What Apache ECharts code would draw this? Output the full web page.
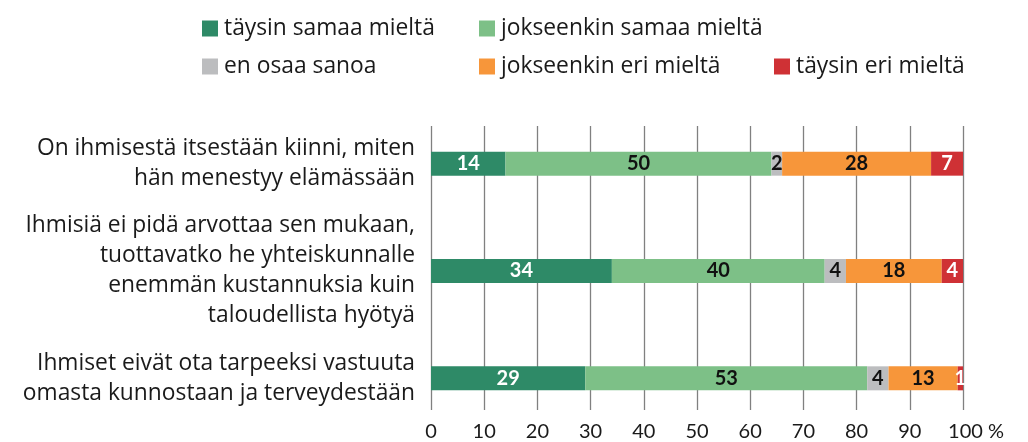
<!DOCTYPE html>
<html>
<head>
    <meta charset="utf-8">
    <script src="https://cdn.jsdelivr.net/npm/echarts@6/dist/echarts.min.js"></script>
</head>
<body style="margin:0">
	<div id="main" style="width:1028px;height:442px;"></div>
	<script type="text/javascript">
		// väittämät
		var categories = [
			'On ihmisestä itsestään kiinni, miten\nhän menestyy elämässään',
			'Ihmisiä ei pidä arvottaa sen mukaan,\ntuottavatko he yhteiskunnalle\nenemmän kustannuksia kuin\ntaloudellista hyötyä',
			'Ihmiset eivät ota tarpeeksi vastuuta\nomasta kunnostaan ja terveydestään'
		]
		var names = ['täysin samaa mieltä', 'jokseenkin samaa mieltä', 'en osaa sanoa', 'jokseenkin eri mieltä', 'täysin eri mieltä']
		var taysinSamaa = [14, 34, 29]
		var jokseenkinSamaa = [50, 40, 53]
		var enOsaa = [2, 4, 4]
		var jokseenkinEri = [28, 18, 13]
		var taysinEri = [7, 4, 1]

		var cols = ['#2e8a67', '#7dc087', '#bcbdbf', '#f7963a', '#cf3135']
		var labelCols = ['#fff', '#111', '#111', '#111', '#fff']
		var values = [taysinSamaa, jokseenkinSamaa, enOsaa, jokseenkinEri, taysinEri]
		var font = 'Lato'
		var textFont = 'Open Sans'

		// legend positions (Excel-like 3 columns)
		var legendPos = [[202, 17], [479, 17], [202, 55], [479, 55], [774, 55]]
		var legends = []
		for (var i = 0; i < names.length; i++) {
			legends.push({
				data: [names[i]],
				left: legendPos[i][0],
				top: legendPos[i][1],
				padding: 0,
				icon: 'rect',
				itemWidth: 16,
				itemHeight: 16,
				selectedMode: false,
				textStyle: {color: '#1a1a1a', fontSize: 22.8, fontFamily: textFont, lineHeight: 22, padding: [0, 0, 0, 1]}
			})
		}

		var series = []
		for (var i = 0; i < names.length; i++) {
			series.push({
				name: names[i],
				type: 'bar',
				stack: 'all',
				xAxisIndex: 0,
				yAxisIndex: 0,
				barWidth: 24,
				data: values[i],
				itemStyle: {color: cols[i]},
				label: {
					show: true,
					position: 'inside',
					color: labelCols[i],
					fontSize: 20,
					fontWeight: 'bold',
					fontFamily: font
				}
			})
		}

		var myChart = echarts.init(document.getElementById('main'))
		var option = {
			animation: false,
			textStyle: {fontFamily: font},
			legend: legends,
			grid: [
				{left: 431, width: 532, top: 110, height: 322},
				{left: 431, width: 532, top: 126, height: 284}
			],
			xAxis: [{
				gridIndex: 0,
				type: 'value',
				min: 0,
				max: 100,
				show: false
			}, {
				gridIndex: 1,
				type: 'value',
				min: 0,
				max: 100,
				interval: 10,
				axisLine: {show: false},
				axisTick: {show: false},
				splitLine: {show: true, lineStyle: {color: '#808080', width: 1.3}},
				axisLabel: {
					color: '#1a1a1a',
					fontSize: 20,
					fontFamily: font,
					margin: 12,
					formatter: function (v) {
						return v === 100 ? '{p|100 %}' : v
					},
					rich: {p: {fontSize: 20, fontFamily: font, color: '#1a1a1a', padding: [0, 0, 0, 26]}}
				}
			}],
			yAxis: [{
				gridIndex: 0,
				type: 'category',
				inverse: true,
				data: categories,
				axisLine: {show: false},
				axisTick: {show: false},
				axisLabel: {
					interval: 0,
					color: '#1a1a1a',
					fontSize: 22.8,
					fontFamily: textFont,
					lineHeight: 30,
					align: 'right',
					margin: 16,
					padding: [0, 0, 20, 0]
				}
			}, {
				gridIndex: 1,
				type: 'category',
				data: [''],
				show: false
			}],
			series: series
		}
		myChart.setOption(option)
	</script>
</body>
</html>
